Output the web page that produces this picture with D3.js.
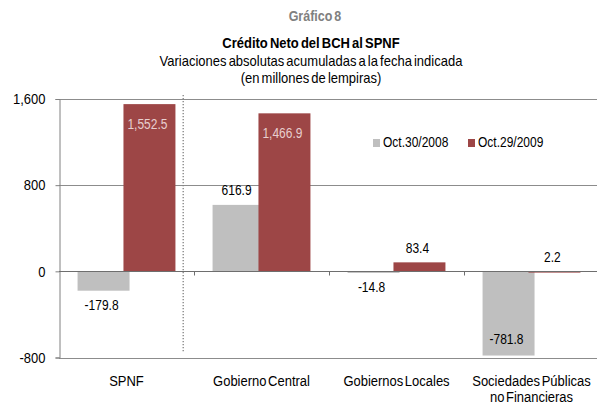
<!DOCTYPE html>
<html>
<head>
<meta charset="utf-8">
<script src="https://cdn.jsdelivr.net/npm/d3@7"></script>
<style>
  body { margin: 0; background: #fff; }
  text { font-family: "Liberation Sans", Arial, sans-serif; }
</style>
</head>
<body>
<div id="chart"></div>
<script>
// Data
var categories   = ['SPNF', 'Gobierno Central', 'Gobiernos Locales', 'Sociedades Públicas|no Financieras'];
var series_names = ['Oct.30/2008', 'Oct.29/2009'];
var oct2008      = [-179.8, 616.9, -14.8, -781.8];
var oct2009      = [1552.5, 1466.9, 83.4, 2.2];
var y_ticks      = [-800, 0, 800, 1600];

var chart_width  = 597;
var chart_height = 405;
var colors       = ['#bfbfbf', '#9d4646'];
var sy           = 1.15;   // the reference text looks a bit taller than Arial

var locale = d3.formatLocale({decimal: '.', thousands: ',', grouping: [3], currency: ['', ''], minus: '-'});
var fmt_tick  = locale.format(',');
var fmt_label = locale.format(',.1f');

function stretch(sel, k){
    k = k || sy;
    sel.attr('transform', function(){
        var yy = +d3.select(this).attr('y') || 0;
        return 'translate(0,' + yy + ') scale(1,' + k + ') translate(0,' + (-yy) + ')';
    });
}

var svg = d3.select('#chart')
    .append('svg')
    .attr('width', chart_width)
    .attr('height', chart_height);

// Titles
svg.append('text')
    .attr('x', 315).attr('y', 21)
    .attr('text-anchor', 'middle')
    .attr('font-size', 12.5).attr('font-weight', 'bold')
    .attr('fill', '#808080')
    .attr('word-spacing', -1.5)
    .text('Gráfico 8')
    .call(stretch);

svg.append('text')
    .attr('x', 311).attr('y', 48)
    .attr('text-anchor', 'middle')
    .attr('font-size', 13).attr('font-weight', 'bold')
    .attr('word-spacing', -1.5)
    .text('Crédito Neto del BCH al SPNF')
    .call(stretch);

svg.append('text')
    .attr('x', 311).attr('y', 66.5)
    .attr('text-anchor', 'middle')
    .attr('font-size', 13)
    .attr('word-spacing', -1.5)
    .text('Variaciones absolutas acumuladas a la fecha indicada')
    .call(stretch);

svg.append('text')
    .attr('x', 311).attr('y', 83.5)
    .attr('text-anchor', 'middle')
    .attr('font-size', 13)
    .attr('word-spacing', -1.5)
    .text('(en millones de lempiras)')
    .call(stretch);

// Scales
var x = d3.scaleBand()
    .domain(categories)
    .range([59, 599])
    .padding(0);

var y = d3.scaleLinear()
    .domain([-800, 1600])
    .range([357.5, 99]);

var step  = x.step();
var bar_w = step * 0.385;
var ov    = step * 0.045;

// Gridlines
svg.append('g')
    .selectAll('line')
    .data(y_ticks.filter((d) => d !== 0))
    .enter()
    .append('line')
    .attr('x1', 59).attr('x2', 599)
    .attr('y1', (d) => Math.round(y(d)) + 0.5)
    .attr('y2', (d) => Math.round(y(d)) + 0.5)
    .attr('stroke', '#8c8c8c')
    .attr('stroke-width', 1);

// Y axis
var y_axis = svg.append('g')
    .attr('transform', 'translate(59.5,0)')
    .call(d3.axisLeft(y).tickValues(y_ticks).tickFormat(fmt_tick).tickSize(4).tickPadding(10));
y_axis.select('.domain').attr('stroke', '#808080');
y_axis.selectAll('.tick line').attr('stroke', '#808080');
y_axis.selectAll('.tick text')
    .attr('font-size', 13)
    .attr('font-family', '"Liberation Sans", Arial, sans-serif')
    .attr('fill', '#000')
    .attr('transform', 'scale(1,' + sy + ')');

// Dotted separator
svg.append('line')
    .attr('x1', x('SPNF') + step * 0.92).attr('x2', x('SPNF') + step * 0.92)
    .attr('y1', 95).attr('y2', 353)
    .attr('stroke', '#808080')
    .attr('stroke-width', 1.3)
    .attr('stroke-dasharray', '1.3,1.7');

// Bars
var bars = svg.append('g');
var series = [oct2008, oct2009];
series.forEach((vals, si) => {
    bars.selectAll('rect.s' + si)
        .data(vals)
        .enter()
        .append('rect')
        .attr('class', 's' + si)
        .attr('x', (d, i) => {
            var c = x(categories[i]) + step / 2;
            return si === 0 ? c - bar_w + ov / 2 : c - ov / 2;
        })
        .attr('y', (d) => Math.min(y(d), y(0)))
        .attr('width', bar_w)
        .attr('height', (d) => Math.max(Math.abs(y(d) - y(0)), 1.5))
        .attr('fill', colors[si]);
});

// Zero axis with category ticks
var x_axis = svg.append('g')
    .attr('transform', 'translate(0,' + (Math.round(y(0)) + 0.5) + ')');
x_axis.append('line')
    .attr('x1', 59).attr('x2', 599)
    .attr('stroke', '#6e6e6e')
    .attr('stroke-width', 1);
x_axis.selectAll('line.tick')
    .data(categories.slice(1))
    .enter()
    .append('line')
    .attr('class', 'tick')
    .attr('x1', (d) => Math.round(x(d)) + 0.5)
    .attr('x2', (d) => Math.round(x(d)) + 0.5)
    .attr('y1', 0).attr('y2', 4)
    .attr('stroke', '#6e6e6e');

// Category labels
var cat_labels = svg.append('g')
    .selectAll('text')
    .data(categories)
    .enter()
    .append('text')
    .attr('x', (d) => x(d) + step / 2)
    .attr('y', 386)
    .attr('text-anchor', 'middle')
    .attr('font-size', 13)
    .attr('word-spacing', -2)
    .call(stretch, 1.06);
cat_labels.each(function(d){
    var lines = d.split('|');
    var t = d3.select(this);
    lines.forEach((ln, li) => {
        t.append('tspan')
            .attr('x', x(d) + step / 2)
            .attr('dy', li === 0 ? 0 : 14.9)
            .text(ln);
    });
});

// Data labels
series.forEach((vals, si) => {
    svg.append('g')
        .selectAll('text')
        .data(vals)
        .enter()
        .append('text')
        .attr('x', (d, i) => {
            var c = x(categories[i]) + step / 2;
            var bx = si === 0 ? c - bar_w + ov / 2 : c - ov / 2;
            return bx + bar_w / 2 - 2;
        })
        .attr('y', (d) => {
            var cy;
            if (d >= 0) {
                cy = y(d) - 14;
                if (cy < 99 + 12) cy = y(d) + 20;
            } else {
                cy = y(d) + 15;
                if (cy > 357.5 - 8) cy = y(d) - 16;
            }
            return cy + 4.5;
        })
        .attr('text-anchor', 'middle')
        .attr('font-size', 12)
        .attr('fill', (d) => (si === 1 && y(d) - 14 < 111) ? '#e8cfcf' : '#000')
        .text((d) => fmt_label(d))
        .call(stretch);
});

// Legend
var legend = svg.append('g');
var legend_x = [373, 468];
series_names.forEach((name, i) => {
    legend.append('rect')
        .attr('x', legend_x[i]).attr('y', 139)
        .attr('width', 7).attr('height', 8)
        .attr('fill', colors[i]);
    legend.append('text')
        .attr('x', legend_x[i] + 10).attr('y', 147.5)
        .attr('font-size', 12)
        .text(name)
        .call(stretch);
});
</script>
</body>
</html>
